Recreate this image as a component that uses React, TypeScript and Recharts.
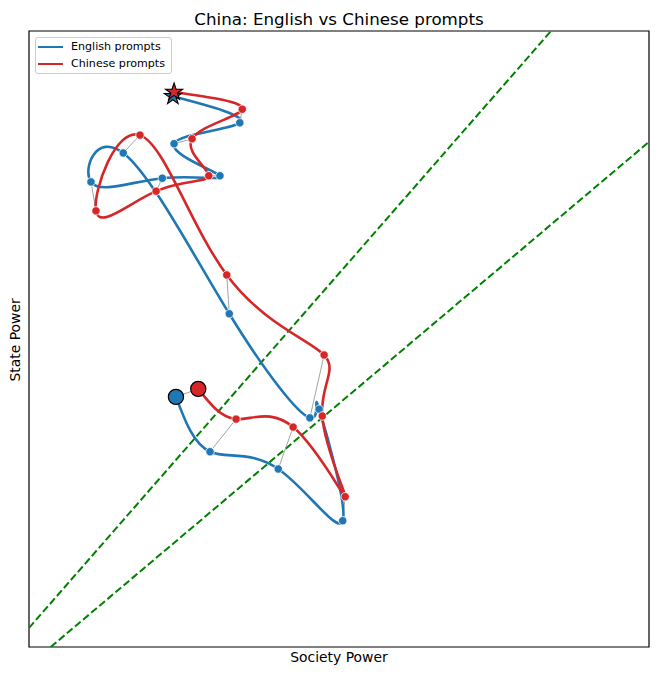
import React from 'react';
import { ComposedChart, Line, Scatter, XAxis, YAxis, ReferenceLine, ReferenceArea, Legend } from 'recharts';

// English prompts trajectory (Society Power, State Power), start -> end
const englishX = [23.7, 29.2, 40.2, 50.6, 46.8, 45.3, 32.3, 15.2, 10.0, 21.5, 30.8, 23.4, 34.0, 23.2];
const englishY = [40.6, 31.7, 28.9, 20.5, 38.6, 37.2, 54.1, 80.2, 75.5, 76.1, 76.5, 81.7, 85.1, 89.4];
// Chinese prompts trajectory
const chineseX = [27.3, 33.4, 42.6, 51.0, 47.3, 47.6, 31.9, 17.9, 10.8, 20.5, 29.0, 26.3, 34.4, 23.4];
const chineseY = [41.9, 37.0, 35.7, 24.4, 37.5, 47.4, 60.4, 83.1, 70.8, 74.0, 76.5, 82.5, 87.3, 90.1];
// Green dashed guide lines (endpoints)
const guideStartX = [0, 3.5];
const guideStartY = [3.1, 0];
const guideEndX = [84.2, 100];
const guideEndY = [100, 82.0];

const seriesNames = ['English prompts', 'Chinese prompts'];
const BLUE = '#1f77b4';
const RED = '#d62728';
const FONT = '"DejaVu Sans", sans-serif';

const toPoints = (xs: number[], ys: number[]) => xs.map((x, i) => ({ x, y: ys[i] }));
const englishData = toPoints(englishX, englishY);
const chineseData = toPoints(chineseX, chineseY);
const last = englishData.length - 1;

const starPath = (cx: number, cy: number, R: number) => {
  const r = R * 0.382;
  const pts: string[] = [];
  for (let k = 0; k < 10; k++) {
    const rad = k % 2 === 0 ? R : r;
    const a = -Math.PI / 2 + (k * Math.PI) / 5;
    pts.push(`${(cx + rad * Math.cos(a)).toFixed(2)},${(cy + rad * Math.sin(a)).toFixed(2)}`);
  }
  return 'M' + pts.join('L') + 'Z';
};

const midDot = (color: string) => (props: any) => (
  <circle cx={props.cx} cy={props.cy} r={4.2} fill={color} stroke="#ffffff" strokeWidth={0.8} />
);
const startDot = (color: string) => (props: any) => (
  <circle cx={props.cx} cy={props.cy} r={7.6} fill={color} stroke="#000000" strokeWidth={1.2} />
);
const endStar = (color: string) => (props: any) => (
  <path d={starPath(props.cx, props.cy, 9)} fill={color} stroke="#000000" strokeWidth={1.1} />
);

const renderLegend = () => (
  <div
    style={{
      position: 'relative',
      width: 135,
      height: 35,
      border: '1px solid #cccccc',
      borderRadius: 3,
      background: 'rgba(255,255,255,0.8)',
      fontFamily: FONT,
      fontSize: 11.1,
      color: '#000',
    }}
  >
    {seriesNames.map((name, i) => (
      <React.Fragment key={name}>
        <div
          style={{
            position: 'absolute',
            left: 2,
            top: 7.5 + i * 17,
            width: 25,
            height: 2.5,
            background: i === 0 ? BLUE : RED,
          }}
        />
        <div
          style={{
            position: 'absolute',
            left: 35,
            top: 2.4 + i * 17,
            lineHeight: '13px',
            whiteSpace: 'nowrap',
          }}
        >
          {name}
        </div>
      </React.Fragment>
    ))}
  </div>
);

export default function App() {
  return (
    <div style={{ position: 'relative', width: 643, height: 660, fontFamily: FONT }}>
      <ComposedChart width={643} height={660} margin={{ top: 23, right: 2, bottom: 21, left: 21 }}>
        <XAxis type="number" dataKey="x" domain={[0, 100]} hide allowDataOverflow />
        <YAxis type="number" dataKey="y" domain={[0, 100]} hide allowDataOverflow />
        {guideStartX.map((x, i) => (
          <ReferenceLine
            key={'g' + i}
            segment={[
              { x, y: guideStartY[i] },
              { x: guideEndX[i], y: guideEndY[i] },
            ]}
            stroke="#008000"
            strokeWidth={2}
            strokeDasharray="7.4 3.2"
            ifOverflow="hidden"
          />
        ))}
        {englishData.map((p, i) => (
          <ReferenceLine
            key={'c' + i}
            segment={[p, chineseData[i]]}
            stroke="#999999"
            strokeWidth={0.9}
            ifOverflow="hidden"
          />
        ))}
        <Line
          data={englishData}
          dataKey="y"
          type="natural"
          stroke={BLUE}
          strokeWidth={2.6}
          dot={false}
          activeDot={false}
          isAnimationActive={false}
          name={seriesNames[0]}
        />
        <Line
          data={chineseData}
          dataKey="y"
          type="natural"
          stroke={RED}
          strokeWidth={2.6}
          dot={false}
          activeDot={false}
          isAnimationActive={false}
          name={seriesNames[1]}
        />
        <Scatter data={englishData.slice(1, last)} dataKey="y" shape={midDot(BLUE)} isAnimationActive={false} legendType="none" />
        <Scatter data={chineseData.slice(1, last)} dataKey="y" shape={midDot(RED)} isAnimationActive={false} legendType="none" />
        <Scatter data={[englishData[0]]} dataKey="y" shape={startDot(BLUE)} isAnimationActive={false} legendType="none" />
        <Scatter data={[chineseData[0]]} dataKey="y" shape={startDot(RED)} isAnimationActive={false} legendType="none" />
        <Scatter data={[englishData[last]]} dataKey="y" shape={endStar(BLUE)} isAnimationActive={false} legendType="none" />
        <Scatter data={[chineseData[last]]} dataKey="y" shape={endStar(RED)} isAnimationActive={false} legendType="none" />
        <ReferenceArea x1={0} x2={100} y1={0} y2={100} fill="none" stroke="#000000" strokeWidth={1.2} ifOverflow="visible" />
        <Legend
          layout="vertical"
          align="center"
          verticalAlign="middle"
          content={renderLegend}
          wrapperStyle={{ position: 'absolute', top: 29, left: 27, width: 137, height: 37 }}
        />
      </ComposedChart>
      <div
        style={{
          position: 'absolute',
          left: 21,
          width: 620,
          top: 3,
          textAlign: 'center',
          fontSize: 16.7,
          lineHeight: '16.7px',
          whiteSpace: 'nowrap',
        }}
      >
        China: English vs Chinese prompts
      </div>
      <div
        style={{
          position: 'absolute',
          left: 21,
          width: 620,
          top: 643,
          textAlign: 'center',
          fontSize: 13.9,
          lineHeight: '13.9px',
          whiteSpace: 'nowrap',
        }}
      >
        Society Power
      </div>
      <div
        style={{
          position: 'absolute',
          left: 8.2 - 100,
          top: 332 - 6.95,
          width: 200,
          textAlign: 'center',
          fontSize: 13.9,
          lineHeight: '13.9px',
          whiteSpace: 'nowrap',
          transform: 'rotate(-90deg)',
          transformOrigin: '50% 50%',
        }}
      >
        State Power
      </div>
    </div>
  );
}
